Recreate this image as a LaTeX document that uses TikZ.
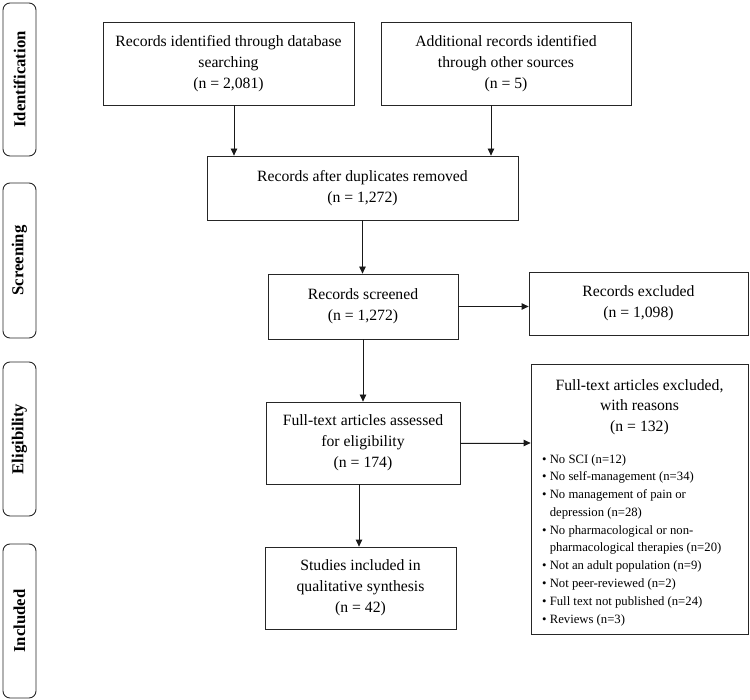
\documentclass[tikz,border=0pt]{standalone}
\usepackage{fontspec}
\setmainfont{Liberation Serif}
\usetikzlibrary{arrows.meta,calc}
\begin{document}
\begin{tikzpicture}[x=1pt,y=-1pt,
 box/.style={draw=black!85, line width=0.8pt, align=center, inner sep=0pt, font=\fontsize{15.7}{21}\selectfont},
 plain/.style={inner sep=0pt},
 phase/.style={draw=black!85, line width=0.9pt, rounded corners=7pt, minimum height=33pt, inner sep=0pt, rotate=90, font=\bfseries\fontsize{16.7}{18}\selectfont},
 arr/.style={-{Triangle[length=7pt,width=6.5pt]}, line width=0.8pt, draw=black!90, fill=black!90}]
\useasboundingbox (0,0) rectangle (750,700);
% phases
\node[phase, minimum width=153pt] (pid) at (19.5,79.5) {Identification};
\node[phase, minimum width=155pt] (psc) at (19.5,260.5) {Screening};
\node[phase, minimum width=154pt] (pel) at (19.5,439) {Eligibility};
\node[phase, minimum width=154pt] (pin) at (19.5,621) {Included};
% boxes
\node[box, minimum width=251pt, minimum height=83pt] (db) at (228.5,63.5) {Records identified through database\\searching\\(n = 2,081)};
\node[box, minimum width=250pt, minimum height=83pt] (add) at (506,63.5) {Additional records identified\\through other sources\\(n = 5)};
\node[box, minimum width=311pt, minimum height=64pt] (dup) at (362.5,188) {Records after duplicates removed\\(n = 1,272)};
\node[box, minimum width=190pt, minimum height=65pt] (scr) at (363,306.5) {Records screened\\(n = 1,272)};
\node[box, minimum width=219pt, minimum height=63pt] (exc) at (638.5,303.5) {Records excluded\\(n = 1,098)};
\node[box, minimum width=194pt, minimum height=82pt] (ft) at (363,443) {Full-text articles assessed\\for eligibility\\(n = 174)};
\node[box, minimum width=191pt, minimum height=82pt] (inc) at (360.5,588) {Studies included in\\qualitative synthesis\\(n = 42)};
\node[box, minimum width=217pt, minimum height=270pt] (ftx) at (639.5,499) {};
\node[plain, align=center, font=\fontsize{15.7}{20.5}\selectfont] (ftxt) at (639.5,407) {Full-text articles excluded,\\with reasons\\(n = 132)};
\node[plain, align=left, anchor=west, font=\fontsize{12.7}{17.78}\selectfont] (ftxl) at (542,540) {%
\textbullet\ No SCI (n=12)\\
\textbullet\ No self-management (n=34)\\
\textbullet\ No management of pain or\\
\phantom{\textbullet\ }depression (n=28)\\
\textbullet\ No pharmacological or non-\\
\phantom{\textbullet\ }pharmacological therapies (n=20)\\
\textbullet\ Not an adult population (n=9)\\
\textbullet\ Not peer-reviewed (n=2)\\
\textbullet\ Full text not published (n=24)\\
\textbullet\ Reviews (n=3)};
% arrows
\coordinate (dbs) at ([xshift=5.5pt]db.south);
\coordinate (adds) at ([xshift=-15pt]add.south);
\draw[arr] (dbs) -- (dbs |- dup.north);
\draw[arr] (adds) -- (adds |- dup.north);
\draw[arr] (dup.south) -- (dup.south |- scr.north);
\draw[arr] (scr.east) -- (scr.east -| exc.west);
\draw[arr] (scr.south) -- (scr.south |- ft.north);
\draw[arr] (ft.east) -- (ft.east -| ftx.west);
\coordinate (fts) at ([xshift=-4pt]ft.south);
\draw[arr] (fts) -- (fts |- inc.north);
\end{tikzpicture}
\end{document}
